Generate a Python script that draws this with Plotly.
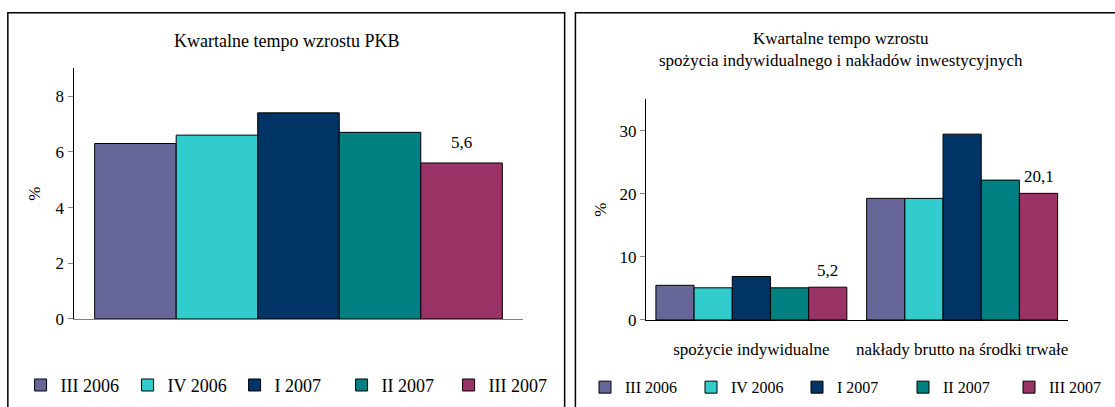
import plotly.graph_objects as go

W, H = 1115, 407

quarters = ["III 2006", "IV 2006", "I 2007", "II 2007", "III 2007"]
colors = ["#666699", "#33CCCC", "#003366", "#008080", "#993366"]

pkb_category = [""]
pkb_values = [6.3, 6.6, 7.4, 6.7, 5.6]

categories = ["spożycie indywidualne", "nakłady brutto na środki trwałe"]
consumption = [5.5, 5.1, 6.9, 5.1, 5.2]
investment = [19.3, 19.3, 29.5, 22.2, 20.1]

left_title = "Kwartalne tempo wzrostu PKB"
right_title = "Kwartalne tempo wzrostu<br>spożycia indywidualnego i nakładów inwestycyjnych"

FONT = "Liberation Serif, serif"
BARGAP = 0.094


def fmt(v):
    return f"{v:.1f}".replace(".", ",")


def px_x(p):
    return p / W


def px_y(p):
    return 1 - p / H


fig = go.Figure()

for i, q in enumerate(quarters):
    fig.add_trace(go.Bar(
        x=pkb_category, y=[pkb_values[i]], name=q,
        marker=dict(color=colors[i], line=dict(color="#000000", width=1)),
        xaxis="x", yaxis="y", legend="legend",
    ))

for i, q in enumerate(quarters):
    fig.add_trace(go.Bar(
        x=categories, y=[consumption[i], investment[i]], name=q,
        marker=dict(color=colors[i], line=dict(color="#000000", width=1)),
        xaxis="x2", yaxis="y2", legend="legend2",
    ))

n = len(quarters)
last = n - 1
offset = (1 - BARGAP) * ((last + 0.5) / n - 0.5)

annotations = []
annotations.append(dict(
    x=0 + offset, y=pkb_values[last], xref="x", yref="y",
    text=fmt(pkb_values[last]), showarrow=False, yanchor="middle", yshift=20,
    font=dict(family=FONT, size=17, color="#000"),
))
for ci, vals in enumerate([consumption, investment]):
    annotations.append(dict(
        x=ci + offset, y=vals[last], xref="x2", yref="y2",
        text=fmt(vals[last]), showarrow=False, yanchor="middle", yshift=17,
        font=dict(family=FONT, size=17, color="#000"),
    ))

annotations.append(dict(
    x=px_x(292), y=px_y(42), xref="paper", yref="paper", text=left_title,
    showarrow=False, xanchor="center", yanchor="middle",
    font=dict(family=FONT, size=18, color="#000"),
))
annotations.append(dict(
    x=px_x(858), y=px_y(51), xref="paper", yref="paper", text=right_title,
    showarrow=False, xanchor="center", yanchor="middle",
    font=dict(family=FONT, size=17, color="#000"),
))

shapes = [
    dict(type="rect", xref="paper", yref="paper",
         x0=px_x(8), x1=px_x(576), y0=-0.2, y1=px_y(13),
         line=dict(color="#000", width=1.5), layer="below"),
    dict(type="rect", xref="paper", yref="paper",
         x0=px_x(587), x1=1.2, y0=-0.2, y1=px_y(13),
         line=dict(color="#000", width=1.5), layer="below"),
]

axis_common = dict(showgrid=False, zeroline=False)

fig.update_layout(
    width=W, height=H,
    margin=dict(l=0, r=0, t=0, b=0),
    paper_bgcolor="white", plot_bgcolor="rgba(0,0,0,0)",
    barmode="group", bargap=BARGAP, bargroupgap=0,
    font=dict(family=FONT, size=17, color="#000"),
    xaxis=dict(domain=[px_x(75), px_x(534)], anchor="y", showline=True,
               linecolor="#808080", linewidth=1, ticks="", showticklabels=False,
               **axis_common),
    yaxis=dict(domain=[px_y(327), px_y(70)], anchor="x", range=[0, 9], dtick=2,
               showline=True, linecolor="#000", linewidth=1, ticks="outside",
               ticklen=5, tickcolor="#808080",
               tickfont=dict(family=FONT, size=17, color="#000"),
               title=dict(text="%", standoff=10, font=dict(family=FONT, size=17)),
               **axis_common),
    xaxis2=dict(domain=[px_x(659), px_x(1089)], anchor="y2", showline=True,
                linecolor="#000", linewidth=1, ticks="",
                tickfont=dict(family=FONT, size=17, color="#000"),
                ticklabelstandoff=14,
                **axis_common),
    yaxis2=dict(domain=[px_y(328), px_y(102)], anchor="x2", range=[0, 35], dtick=10,
                showline=True, linecolor="#000", linewidth=1, ticks="outside",
                ticklen=5, tickcolor="#808080",
                tickfont=dict(family=FONT, size=17, color="#000"),
                title=dict(text="%", standoff=8, font=dict(family=FONT, size=17)),
                **axis_common),
    legend=dict(orientation="h", x=px_x(21), y=px_y(395), xanchor="left", yanchor="middle",
                font=dict(family=FONT, size=18, color="#000"),
                bgcolor="rgba(0,0,0,0)", itemclick=False,
                entrywidth=62, entrywidthmode="pixels"),
    legend2=dict(orientation="h", x=px_x(597), y=px_y(397), xanchor="left", yanchor="middle",
                 font=dict(family=FONT, size=16, color="#000"),
                 bgcolor="rgba(0,0,0,0)", itemclick=False,
                 entrywidth=61, entrywidthmode="pixels"),
    annotations=annotations,
    shapes=shapes,
    showlegend=True,
)

fig.write_html(
    "out.html",
    config={"displayModeBar": False},
    post_script="document.body.style.margin='0';document.body.style.overflow='hidden';",
)
